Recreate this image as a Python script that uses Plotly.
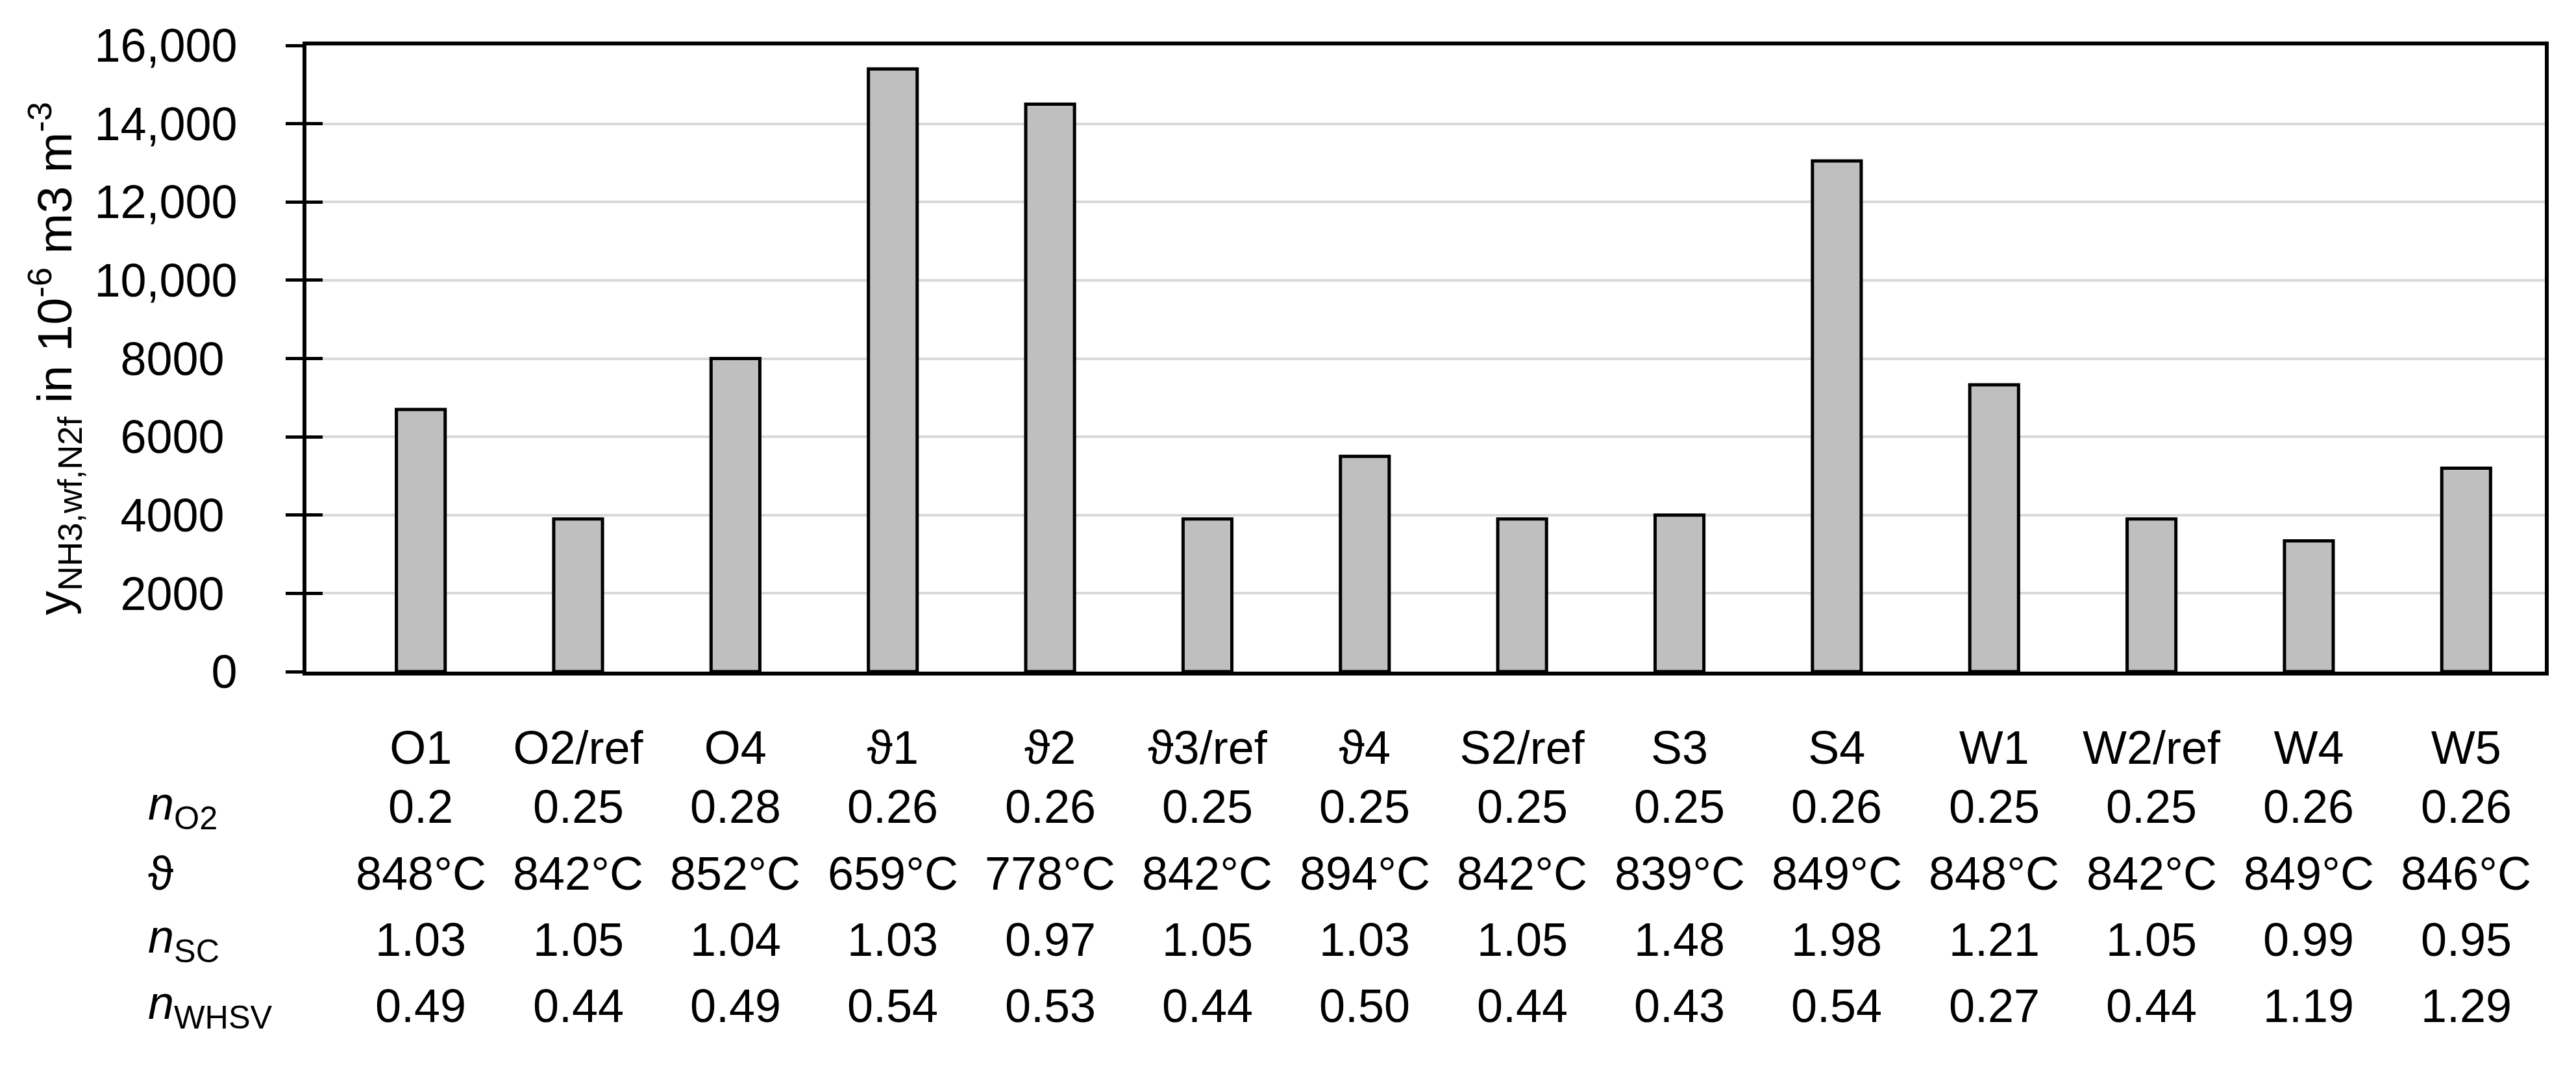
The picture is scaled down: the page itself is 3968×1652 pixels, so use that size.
import plotly.graph_objects as go

# ---- data ----
categories = ["O1", "O2/ref", "O4", "ϑ1", "ϑ2", "ϑ3/ref", "ϑ4",
              "S2/ref", "S3", "S4", "W1", "W2/ref", "W4", "W5"]
y_nh3 = [6700, 3900, 8000, 15400, 14500, 3900, 5500,
         3900, 4000, 13050, 7330, 3900, 3340, 5200]
n_o2 = ["0.2", "0.25", "0.28", "0.26", "0.26", "0.25", "0.25",
        "0.25", "0.25", "0.26", "0.25", "0.25", "0.26", "0.26"]
theta = ["848°C", "842°C", "852°C", "659°C", "778°C", "842°C", "894°C",
         "842°C", "839°C", "849°C", "848°C", "842°C", "849°C", "846°C"]
n_sc = ["1.03", "1.05", "1.04", "1.03", "0.97", "1.05", "1.03",
        "1.05", "1.48", "1.98", "1.21", "1.05", "0.99", "0.95"]
n_whsv = ["0.49", "0.44", "0.49", "0.54", "0.53", "0.44", "0.50",
          "0.44", "0.43", "0.54", "0.27", "0.44", "1.19", "1.29"]
row_labels = ["<i>n</i><sub>O2</sub>", "ϑ", "<i>n</i><sub>SC</sub>", "<i>n</i><sub>WHSV</sub>"]
y_tickvals = [0, 2000, 4000, 6000, 8000, 10000, 12000, 14000, 16000]
y_ticktext = ["0", "2000\u00a0", "4000\u00a0", "6000\u00a0", "8000\u00a0",
              "10,000", "12,000", "14,000", "16,000"]
y_title = "y<sub>NH3,wf,N2f</sub> in 10<sup>-6</sup> m3 m<sup>-3</sup>"

FONT = "Liberation Sans, Arial, sans-serif"
FS = 72
W, H = 3968, 1652
ML, MR, MT, MB = 472, 48, 70, 617
plot_h = H - MT - MB

fig = go.Figure()
fig.add_trace(go.Bar(
    x=categories, y=y_nh3,
    marker=dict(color="#bfbfbf", line=dict(color="black", width=5)),
    showlegend=False, hoverinfo="x+y",
))
# invisible helper trace so the overlaid axis (inner half of ticks) is drawn
fig.add_trace(go.Scatter(x=[categories[0]], y=[0], yaxis="y2", mode="markers",
                         marker=dict(opacity=0), showlegend=False, hoverinfo="skip"))

# table rows below the axis
rows = [n_o2, theta, n_sc, n_whsv]
row_y_px = [1243, 1346, 1448, 1550]
annotations = []
for lab, vals, ypx in zip(row_labels, rows, row_y_px):
    yp = (H - MB - ypx) / plot_h
    annotations.append(dict(
        x=(226 - ML) / (W - ML - MR), xref="paper", y=yp, yref="paper",
        text=lab, showarrow=False, xanchor="left", yanchor="middle",
        font=dict(family=FONT, size=FS, color="black"),
    ))
    for c, v in zip(categories, vals):
        annotations.append(dict(
            x=c, xref="x", y=yp, yref="paper", text=v, showarrow=False,
            xanchor="center", yanchor="middle",
            font=dict(family=FONT, size=FS, color="black"),
        ))

fig.update_layout(
    width=W, height=H,
    margin=dict(l=ML, r=MR, t=MT, b=MB, autoexpand=False),
    plot_bgcolor="white", paper_bgcolor="white",
    bargap=0.69,
    font=dict(family=FONT, size=FS, color="black"),
    annotations=annotations,
    xaxis=dict(
        type="category", tickvals=categories, ticktext=categories,
        showline=True, linecolor="black", linewidth=6, mirror=True,
        ticks="", showgrid=False, tickangle=0,
        tickfont=dict(family=FONT, size=FS, color="black"),
        ticklabelstandoff=50,
    ),
    yaxis=dict(
        range=[0, 16000], tickvals=y_tickvals, ticktext=y_ticktext,
        showline=True, linecolor="black", linewidth=6, mirror=True,
        ticks="outside", ticklen=26, tickwidth=5, tickcolor="black",
        showgrid=True, gridcolor="#d9d9d9", gridwidth=4, zeroline=False,
        tickfont=dict(family=FONT, size=FS, color="black"),
        ticklabelstandoff=60,
        title=dict(text=y_title,
                   font=dict(family=FONT, size=75, color="black"), standoff=12),
    ),
    yaxis2=dict(
        range=[0, 16000], tickvals=y_tickvals, overlaying="y", side="left",
        anchor="x", showticklabels=False, showgrid=False, zeroline=False,
        ticks="inside", ticklen=25, tickwidth=5, tickcolor="black", showline=False,
    ),
)

fig.write_html("out.html", config={"displayModeBar": False},
               post_script="document.body.style.margin='0';")
